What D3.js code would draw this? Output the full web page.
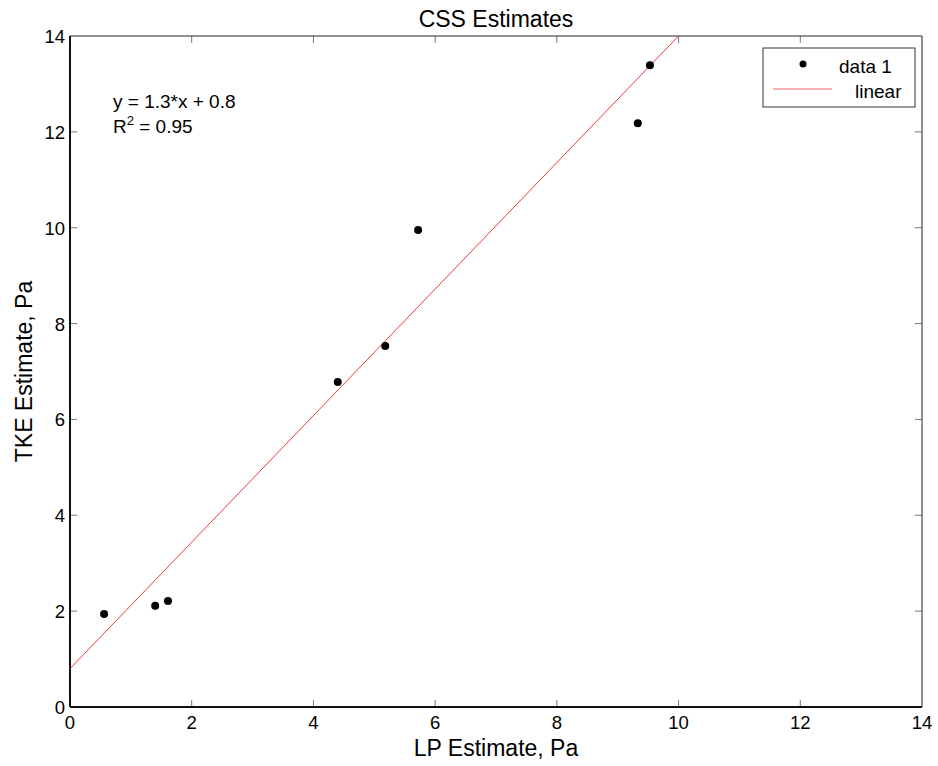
<!DOCTYPE html>
<html>
<head>
<meta charset="utf-8">
<script src="https://cdn.jsdelivr.net/npm/d3@7"></script>
<style>
  body { margin: 0; background: #fff; }
  svg { font-family: "Liberation Sans", Arial, Helvetica, sans-serif; }
</style>
</head>
<body>
<div id="chart"></div>
<script>
// data
const lpEstimate = [0.56, 1.40, 1.61, 4.40, 5.18, 5.72, 9.33, 9.53];
const tkeEstimate = [1.94, 2.11, 2.21, 6.78, 7.53, 9.95, 12.18, 13.39];
const fitX = [0, 10.0];
const fitY = [0.8, 14.0];
const xTicks = [0, 2, 4, 6, 8, 10, 12, 14];
const yTicks = [0, 2, 4, 6, 8, 10, 12, 14];
const fitText = ['y = 1.3*x + 0.8', 'R', '2', ' = 0.95'];

const width = 938, height = 766;
const margin = { top: 36, right: 16, bottom: 59, left: 70 };
const w = width - margin.left - margin.right;
const h = height - margin.top - margin.bottom;

const svg = d3.select('#chart').append('svg')
  .attr('width', width)
  .attr('height', height);

const x = d3.scaleLinear().domain([0, 14]).range([0, w]);
const y = d3.scaleLinear().domain([0, 14]).range([h, 0]);

const g = svg.append('g')
  .attr('transform', `translate(${margin.left},${margin.top})`);

// ticks inside the box, on all four sides
const tickLen = 7;
const tickColor = '#777';
xTicks.forEach(t => {
  if (t === 0 || t === 14) return;
  g.append('line').attr('x1', x(t)).attr('x2', x(t)).attr('y1', h).attr('y2', h - tickLen)
    .attr('stroke', tickColor).attr('stroke-width', 1);
  g.append('line').attr('x1', x(t)).attr('x2', x(t)).attr('y1', 0).attr('y2', tickLen)
    .attr('stroke', tickColor).attr('stroke-width', 1);
});
yTicks.forEach(t => {
  if (t === 0 || t === 14) return;
  g.append('line').attr('y1', y(t)).attr('y2', y(t)).attr('x1', 0).attr('x2', tickLen)
    .attr('stroke', tickColor).attr('stroke-width', 1);
  g.append('line').attr('y1', y(t)).attr('y2', y(t)).attr('x1', w).attr('x2', w - tickLen)
    .attr('stroke', tickColor).attr('stroke-width', 1);
});

// box
g.append('line').attr('x1', 0).attr('x2', w).attr('y1', 0).attr('y2', 0).attr('stroke', '#222').attr('stroke-width', 1);
g.append('line').attr('x1', w).attr('x2', w).attr('y1', 0).attr('y2', h).attr('stroke', '#222').attr('stroke-width', 1);
g.append('line').attr('x1', 0).attr('x2', w).attr('y1', h).attr('y2', h).attr('stroke', '#111').attr('stroke-width', 2);
g.append('line').attr('x1', 0).attr('x2', 0).attr('y1', 0).attr('y2', h).attr('stroke', '#111').attr('stroke-width', 2);

// tick labels
g.selectAll('.xt').data(xTicks).enter().append('text')
  .attr('x', d => x(d)).attr('y', h + 22)
  .attr('text-anchor', 'middle').attr('font-size', 18.5).attr('fill', '#000')
  .text(d => d);
g.selectAll('.yt').data(yTicks).enter().append('text')
  .attr('x', -5).attr('y', d => y(d) + 7)
  .attr('text-anchor', 'end').attr('font-size', 18.5).attr('fill', '#000')
  .text(d => d);

// fit line
const line = d3.line().x(d => x(d[0])).y(d => y(d[1]));
g.append('path')
  .datum(d3.zip(fitX, fitY))
  .attr('d', line)
  .attr('fill', 'none')
  .attr('stroke', '#f23a3a')
  .attr('stroke-width', 1);

// data points
g.selectAll('.pt').data(d3.zip(lpEstimate, tkeEstimate)).enter().append('circle')
  .attr('cx', d => x(d[0])).attr('cy', d => y(d[1]))
  .attr('r', 4).attr('fill', '#000');

// fit annotation
g.append('text').attr('x', 43).attr('y', 72).attr('font-size', 19).text(fitText[0]);
const r2 = g.append('text').attr('x', 43).attr('y', 97).attr('font-size', 19);
r2.append('tspan').text(fitText[1]);
r2.append('tspan').attr('font-size', 13).attr('dy', -8).text(fitText[2]);
r2.append('tspan').attr('dy', 8).text(fitText[3]);

// legend
const lg = svg.append('g').attr('transform', 'translate(763,48)');
lg.append('rect').attr('width', 152).attr('height', 59)
  .attr('fill', '#fff').attr('stroke', '#333').attr('stroke-width', 1);
lg.append('circle').attr('cx', 40).attr('cy', 16).attr('r', 3.5).attr('fill', '#000');
lg.append('text').attr('x', 76).attr('y', 25).attr('font-size', 19).text('data 1');
lg.append('line').attr('x1', 10).attr('x2', 69).attr('y1', 41).attr('y2', 41)
  .attr('stroke', '#f26060').attr('stroke-width', 1);
lg.append('text').attr('x', 92).attr('y', 50).attr('font-size', 19).text('linear');

// titles
svg.append('text').attr('x', margin.left + w / 2).attr('y', 27)
  .attr('text-anchor', 'middle').attr('font-size', 23).text('CSS Estimates');
svg.append('text').attr('x', margin.left + w / 2).attr('y', 756)
  .attr('text-anchor', 'middle').attr('font-size', 23).text('LP Estimate, Pa');
svg.append('text')
  .attr('transform', `translate(32,${margin.top + h / 2}) rotate(-90)`)
  .attr('text-anchor', 'middle').attr('font-size', 23).text('TKE Estimate, Pa');
</script>
</body>
</html>
